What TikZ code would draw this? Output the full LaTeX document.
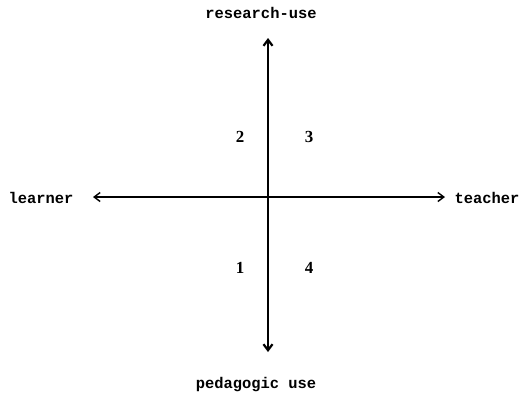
\documentclass[tikz,border=0pt]{standalone}
\usepackage{fontspec}
\setmonofont{Liberation Mono}
\newfontfamily\numfont{Liberation Serif}
\usetikzlibrary{arrows.meta}
\begin{document}
\begin{tikzpicture}[x=1bp,y=-1bp,
  lbl/.style={font=\fontsize{15.5}{15.5}\selectfont\ttfamily\bfseries, inner sep=0pt},
  num/.style={font=\fontsize{17}{17}\selectfont\numfont\bfseries, inner sep=0pt},
  axis/.style={-{Straight Barb[length=6bp,width=9bp]}, line width=1.4bp}]
\useasboundingbox (0,0) rectangle (521,400);
\node[lbl] (top) at (261,13) {research-use};
\node[lbl] (bot) at (256,385) {pedagogic use};
\node[lbl] (left) at (41,198) {learner};
\node[lbl] (right) at (487,198) {teacher};
\coordinate (c) at (268,197);
\coordinate (vt) at (268,38);
\coordinate (vb) at (268,352);
\coordinate (hl) at (93,197);
\coordinate (hr) at (445,197);
\draw[axis, line width=2.2bp] (c) -- (vt);
\draw[axis, line width=2.2bp] (c) -- (vb);
\draw[axis] (c) -- (hl);
\draw[axis] (c) -- (hr);
\node[num] (n2) at (240,137) {2};
\node[num] (n3) at (309,137) {3};
\node[num] (n1) at (240,268) {1};
\node[num] (n4) at (309,268) {4};
\end{tikzpicture}
\end{document}
